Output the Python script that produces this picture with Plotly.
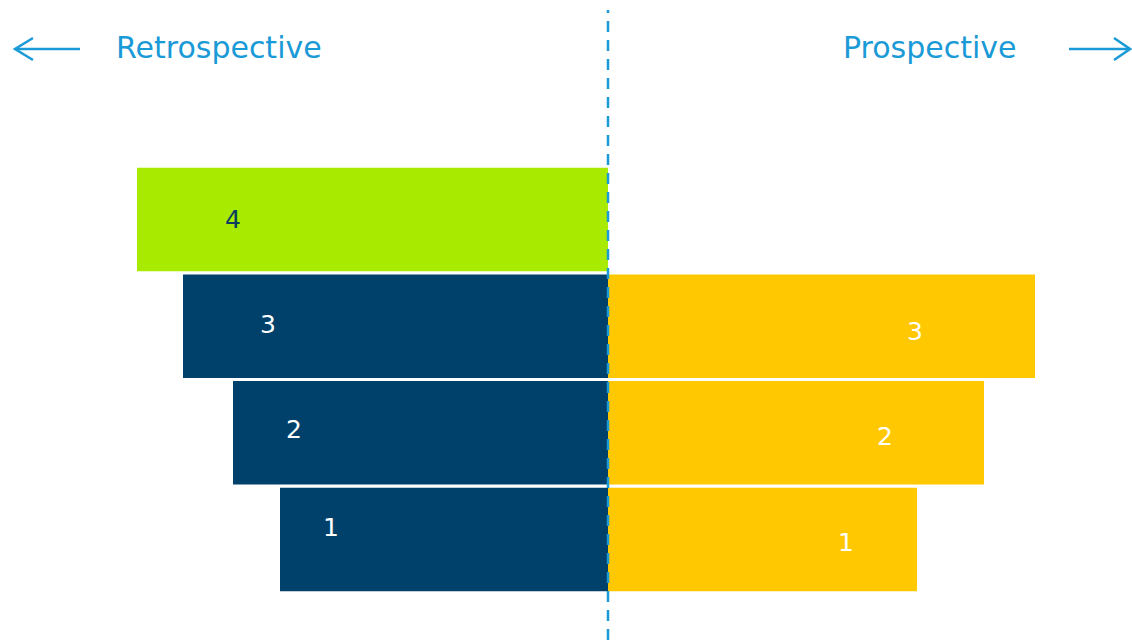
import plotly.graph_objects as go

# ---- data ----
levels_retro = [1, 2, 3]
retro_values = [3.28, 3.75, 4.25]
retro_top_level = [4]
retro_top_value = [4.71]
levels_pro = [1, 2, 3]
pro_values = [3.09, 3.76, 4.27]
left_title = "Retrospective"
right_title = "Prospective"

BLUE = "#00416b"
GREEN = "#a8eb00"
YELLOW = "#ffc800"
ACCENT = "#1a9ad6"
FONT = "DejaVu Sans"

W, H = 1132, 640

fig = go.Figure()
fig.add_trace(go.Bar(y=levels_retro, x=[-v for v in retro_values], orientation="h",
                     marker=dict(color=BLUE, line=dict(width=0)), width=0.97,
                     hoverinfo="skip"))
fig.add_trace(go.Bar(y=retro_top_level, x=[-v for v in retro_top_value], orientation="h",
                     marker=dict(color=GREEN, line=dict(width=0)), width=0.97,
                     hoverinfo="skip"))
fig.add_trace(go.Bar(y=levels_pro, x=pro_values, orientation="h",
                     marker=dict(color=YELLOW, line=dict(width=0)), width=0.97,
                     hoverinfo="skip"))

annotations = []
# label placement (fraction of bar length, vertical pixel shift)
left_frac = {1: 0.845, 2: 0.837, 3: 0.80, 4: 0.796}
left_shift = {1: 12, 2: 3, 3: 2, 4: 0}
right_frac = {1: 0.77, 2: 0.737, 3: 0.719}
right_shift = {1: -3, 2: -4, 3: -5}
for lv, v in zip(levels_retro, retro_values):
    annotations.append(dict(x=-v * left_frac[lv], y=lv, text=str(lv), showarrow=False,
                            yshift=left_shift[lv],
                            font=dict(family=FONT, size=25, color="white")))
for lv, v in zip(retro_top_level, retro_top_value):
    annotations.append(dict(x=-v * left_frac[lv], y=lv, text=str(lv), showarrow=False,
                            yshift=left_shift[lv],
                            font=dict(family=FONT, size=25, color="#0b3d5e")))
for lv, v in zip(levels_pro, pro_values):
    annotations.append(dict(x=v * right_frac[lv], y=lv, text=str(lv), showarrow=False,
                            yshift=right_shift[lv],
                            font=dict(family=FONT, size=25, color="white")))

# titles
annotations.append(dict(xref="paper", yref="paper", x=219 / W, y=1 - 48 / H,
                        text=left_title, showarrow=False, xanchor="center", yanchor="middle",
                        font=dict(family=FONT, size=30, color=ACCENT)))
annotations.append(dict(xref="paper", yref="paper", x=929.5 / W, y=1 - 48 / H,
                        text=right_title, showarrow=False, xanchor="center", yanchor="middle",
                        font=dict(family=FONT, size=30, color=ACCENT)))

def px(x):
    return x / W

def py(y):
    return 1 - y / H

shapes = [
    # center dashed line
    dict(type="line", xref="x", yref="paper", x0=0, x1=0, y0=0, y1=py(10),
         line=dict(color=ACCENT, width=2.5, dash="11px,8px"), layer="above"),
    # left arrow
    dict(type="line", xref="paper", yref="paper", x0=px(15), x1=px(80), y0=py(49), y1=py(49),
         line=dict(color=ACCENT, width=2.5)),
    dict(type="path", xref="paper", yref="paper",
         path=f"M {px(33)},{py(38)} L {px(15)},{py(49)} L {px(33)},{py(60)}",
         line=dict(color=ACCENT, width=2.5)),
    # right arrow
    dict(type="line", xref="paper", yref="paper", x0=px(1069), x1=px(1130), y0=py(49), y1=py(49),
         line=dict(color=ACCENT, width=2.5)),
    dict(type="path", xref="paper", yref="paper",
         path=f"M {px(1114)},{py(38)} L {px(1130)},{py(49)} L {px(1114)},{py(60)}",
         line=dict(color=ACCENT, width=2.5)),
]

fig.update_layout(
    width=W, height=H,
    margin=dict(l=0, r=0, t=0, b=0),
    paper_bgcolor="white", plot_bgcolor="white",
    barmode="overlay", showlegend=False,
    xaxis=dict(range=[-6.08, 5.24], visible=False, fixedrange=True),
    yaxis=dict(range=[0.058, 6.058], visible=False, fixedrange=True),
    annotations=annotations, shapes=shapes,
)

fig.write_html("out.html", config={"displayModeBar": False},
               post_script="document.body.style.margin='0';document.body.style.overflow='hidden';")
